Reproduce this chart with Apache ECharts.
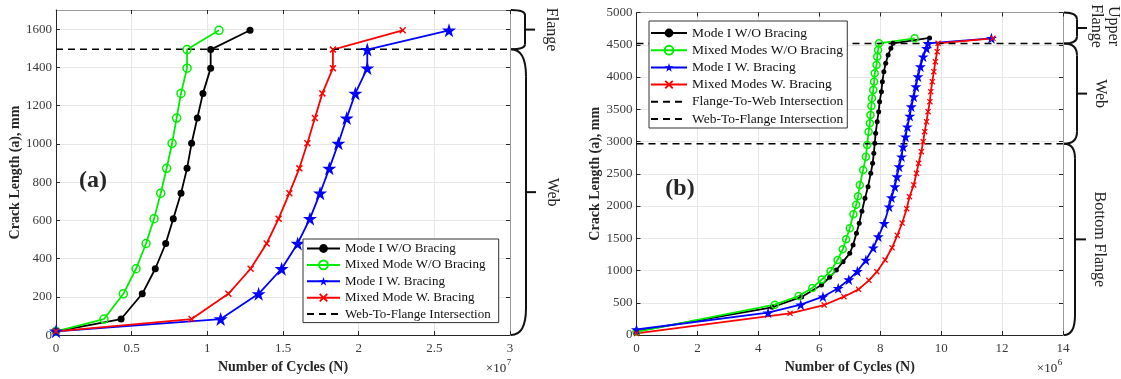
<!DOCTYPE html>
<html>
<head>
<meta charset="utf-8">
<script src="https://cdn.jsdelivr.net/npm/echarts@6/dist/echarts.min.js"></script>
<style>
  html, body { margin: 0; background: #fff; }
  #main { width: 1121px; height: 379px; }
</style>
</head>
<body>
<div id="main"></div>
<script>
// ---- chart (a): cycles in x10^7, crack length in mm ----
const aCrack = [20, 84, 216, 347, 479, 609, 742, 872, 1003, 1135, 1264, 1396, 1493, 1594]
const aModeIWO = [0, 0.43, 0.57, 0.656, 0.725, 0.775, 0.826, 0.866, 0.896, 0.934, 0.971, 1.022, 1.022, 1.282]
const aMixedWO = [0, 0.317, 0.445, 0.529, 0.595, 0.648, 0.692, 0.731, 0.767, 0.797, 0.826, 0.866, 0.866, 1.077]
const aModeIW = [0, 1.088, 1.339, 1.491, 1.597, 1.678, 1.745, 1.806, 1.866, 1.921, 1.978, 2.057, 2.057, 2.597]
const aMixedW = [0, 0.896, 1.139, 1.286, 1.392, 1.471, 1.542, 1.608, 1.661, 1.711, 1.760, 1.830, 1.830, 2.291]
const aWebToFlange = 1495

// ---- chart (b): cycles in x10^6, crack length in mm ----
const bModeIWO_x = [0, 4.45, 5.42, 6.07, 6.34, 6.56, 6.78, 7.00, 7.11, 7.22, 7.31, 7.40, 7.50, 7.60, 7.69, 7.75, 7.79, 7.82, 7.85, 7.90, 7.95, 7.98, 8.04, 8.07, 8.12, 8.18, 8.26, 8.35, 8.42, 9.62]
const bModeIWO_y = [60, 430, 590, 775, 894, 1008, 1137, 1266, 1395, 1576, 1731, 1920, 2119, 2300, 2507, 2662, 2817, 2972, 3127, 3307, 3462, 3617, 3772, 3928, 4083, 4212, 4341, 4444, 4522, 4605]
const bMixedWO_x = [0, 4.54, 5.32, 5.77, 6.08, 6.37, 6.60, 6.77, 6.88, 7.00, 7.12, 7.21, 7.27, 7.33, 7.44, 7.53, 7.57, 7.62, 7.66, 7.68, 7.71, 7.73, 7.77, 7.80, 7.82, 7.88, 7.90, 7.93, 7.96, 9.13]
const bMixedWO_y = [50, 470, 605, 730, 860, 990, 1163, 1330, 1484, 1655, 1873, 2020, 2150, 2326, 2558, 2764, 2946, 3152, 3282, 3411, 3550, 3670, 3798, 3928, 4057, 4186, 4315, 4419, 4522, 4600]
const bModeIW_x = [0, 4.32, 5.39, 6.12, 6.62, 6.97, 7.25, 7.53, 7.77, 7.94, 8.13, 8.29, 8.37, 8.48, 8.55, 8.62, 8.70, 8.75, 8.83, 8.89, 8.97, 9.02, 9.10, 9.17, 9.24, 9.32, 9.41, 9.52, 9.57, 11.65]
const bModeIW_y = [85, 346, 470, 594, 724, 858, 987, 1163, 1352, 1525, 1731, 1989, 2130, 2300, 2455, 2610, 2764, 2919, 3074, 3229, 3395, 3540, 3695, 3850, 4005, 4160, 4315, 4444, 4522, 4600]
const bMixedW_x = [0, 5.04, 6.16, 6.81, 7.29, 7.63, 7.89, 8.16, 8.39, 8.56, 8.72, 8.87, 8.96, 9.10, 9.19, 9.26, 9.35, 9.41, 9.46, 9.52, 9.57, 9.63, 9.66, 9.71, 9.76, 9.81, 9.87, 9.90, 11.70]
const bMixedW_y = [25, 336, 465, 594, 708, 848, 981, 1163, 1352, 1545, 1736, 1958, 2144, 2326, 2507, 2662, 2842, 2997, 3152, 3307, 3462, 3617, 3772, 3928, 4083, 4238, 4392, 4522, 4600]
const bWebToFlange = 4520
const bFlangeToWeb = 2965

const SERIF = '"Liberation Serif", "DejaVu Serif", serif'
const STAR = 'path://M50,0L61.2,34.5L97.6,34.5L68.2,55.9L79.4,90.5L50,69.1L20.6,90.5L31.8,55.9L2.4,34.5L38.8,34.5Z'
const CROSS = 'path://M0,1.5L1.5,0L5,3.5L8.5,0L10,1.5L6.5,5L10,8.5L8.5,10L5,6.5L1.5,10L0,8.5L3.5,5Z'

const zip = (xs, ys) => xs.map((x, i) => [x, ys[i]])

// one curve series
function curve(name, data, axis, kind, big){
  const s = {
    type: 'line', name: name, data: data,
    xAxisIndex: axis, yAxisIndex: axis,
    lineStyle: { width: 1.8 },
    animation: false
  }
  if (kind === 'black'){
    s.symbol = 'circle'; s.symbolSize = big ? 7 : 5
    s.lineStyle.color = '#000'; s.itemStyle = { color: '#000' }
  } else if (kind === 'green'){
    s.symbol = 'circle'; s.symbolSize = big ? 8 : 7
    s.lineStyle.color = '#00ee00'
    s.itemStyle = { color: 'rgba(255,255,255,0)', borderColor: '#00ee00', borderWidth: 1.5 }
  } else if (kind === 'blue'){
    s.symbol = STAR; s.symbolSize = big ? 14 : 11
    s.lineStyle.color = '#0000ff'; s.itemStyle = { color: '#0000ff' }
  } else {
    s.symbol = CROSS; s.symbolSize = big ? 7 : 6
    s.lineStyle.color = '#ff0000'; s.itemStyle = { color: '#ff0000' }
  }
  return s
}

function dashed(name, level, x0, x1, axis){
  return {
    type: 'line', name: name, data: [[x0, level], [x1, level]],
    xAxisIndex: axis, yAxisIndex: axis, symbol: 'none',
    lineStyle: { color: '#000', width: 1.6, type: [7, 5] },
    itemStyle: { color: '#000' },
    animation: false
  }
}

// axes helpers
function xMain(grid, max, step, gap){
  return {
    gridIndex: grid, type: 'value', min: 0, max: max, interval: step, position: 'bottom',
    name: 'Number of Cycles (N)', nameLocation: 'middle', nameGap: gap,
    nameTextStyle: { fontFamily: SERIF, fontWeight: 'bold', fontSize: 14, color: '#262626' },
    axisLine: { show: true, lineStyle: { color: '#262626', width: 1 } },
    axisTick: { inside: true, length: 4, lineStyle: { color: '#262626' } },
    axisLabel: { fontFamily: SERIF, fontSize: 13, color: '#3a3a3a', margin: 7, formatter: v => String(v) },
    splitLine: { show: true, lineStyle: { color: '#e6e6e6' } }
  }
}
function yMain(grid, max, step, gap){
  return {
    gridIndex: grid, type: 'value', min: 0, max: max, interval: step, position: 'left',
    name: 'Crack Length (a), mm', nameLocation: 'middle', nameGap: gap, nameRotate: 90,
    nameTextStyle: { fontFamily: SERIF, fontWeight: 'bold', fontSize: 14, color: '#262626' },
    axisLine: { show: true, lineStyle: { color: '#262626', width: 1 } },
    axisTick: { inside: true, length: 4, lineStyle: { color: '#262626' } },
    axisLabel: { fontFamily: SERIF, fontSize: 13, color: '#3a3a3a', margin: 4, showMaxLabel: max % step === 0, formatter: v => String(v) },
    splitLine: { show: true, lineStyle: { color: '#e6e6e6' } }
  }
}
// mirrored box side with ticks only
function mirror(grid, max, step, pos){
  return {
    gridIndex: grid, type: 'value', min: 0, max: max, interval: step, position: pos,
    axisLine: { show: true, onZero: false, lineStyle: { color: '#9a9a9a', width: 1 } },
    axisTick: { show: true, inside: true, length: 4, lineStyle: { color: '#262626' } },
    axisLabel: { show: false }, splitLine: { show: false }
  }
}

// legend entries; dashed rows get no marker
function entries(names, dashedNames){
  return names.map(n => dashedNames.indexOf(n) >= 0 ? { name: n, itemStyle: { opacity: 0 } } : n)
}
function legendBox(data, left, top, iw, gap, pad, fs){
  return {
    data: data, orient: 'vertical', left: left, top: top,
    itemWidth: iw, itemHeight: 11, itemGap: gap, padding: pad,
    backgroundColor: '#fff', borderColor: '#333', borderWidth: 1,
    selectedMode: false,
    textStyle: { fontFamily: SERIF, fontSize: fs, color: '#111' }
  }
}

const chart = echarts.init(document.getElementById('main'))

const option = {
  backgroundColor: '#fff',
  animation: false,
  grid: [
    { left: 56, top: 10, width: 454, height: 326, show: false },
    { left: 636.5, top: 12.5, width: 426.5, height: 322.5, show: false }
  ],
  xAxis: [
    xMain(0, 3, 0.5, 20), mirror(0, 3, 0.5, 'top'),
    xMain(1, 14, 2, 20), mirror(1, 14, 2, 'top')
  ],
  yAxis: [
    yMain(0, 1700, 200, 27), mirror(0, 1700, 200, 'right'),
    yMain(1, 5000, 500, 29), mirror(1, 5000, 500, 'right')
  ],
  legend: [
    legendBox(entries(['Mode I W/O Bracing', 'Mixed Mode W/O Bracing', 'Mode I W. Bracing', 'Mixed Mode W. Bracing', 'Web-To-Flange Intersection'],
      ['Web-To-Flange Intersection']), 303, 239, 33, 3.4, [3, 8, 2, 3], 13),
    legendBox(entries(['Mode I W/O Bracing', 'Mixed Modes W/O Bracing', 'Mode I W. Bracing', 'Mixed Modes W. Bracing', 'Flange-To-Web Intersection', 'Web-To-Flange Intersection'],
      ['Flange-To-Web Intersection', 'Web-To-Flange Intersection']), 649, 21, 36, 3.2, [5, 4, 2, 1], 13.5)
  ],
  series: [
    curve('Mode I W/O Bracing', zip(aModeIWO, aCrack), 0, 'black', true),
    curve('Mixed Mode W/O Bracing', zip(aMixedWO, aCrack), 0, 'green', true),
    curve('Mode I W. Bracing', zip(aModeIW, aCrack), 0, 'blue', true),
    curve('Mixed Mode W. Bracing', zip(aMixedW, aCrack), 0, 'red', true),
    dashed('Web-To-Flange Intersection', aWebToFlange, 0, 3, 0),

    curve('Mode I W/O Bracing', zip(bModeIWO_x, bModeIWO_y), 2, 'black', false),
    curve('Mixed Modes W/O Bracing', zip(bMixedWO_x, bMixedWO_y), 2, 'green', false),
    curve('Mode I W. Bracing', zip(bModeIW_x, bModeIW_y), 2, 'blue', false),
    curve('Mixed Modes W. Bracing', zip(bMixedW_x, bMixedW_y), 2, 'red', false),
    dashed('Flange-To-Web Intersection', bWebToFlange, 0, 14, 2),
    dashed('Web-To-Flange Intersection', bFlangeToWeb, 0, 14, 2)
  ]
}
chart.setOption(option)

// ---- braces and labels on the right of each plot ----
const ink = { stroke: '#111', lineWidth: 2, fill: null }
function brace(x0, y1, y2, w, r1, r2, t){
  const ym = (y1 + y2) / 2
  return [
    { type: 'bezierCurve', shape: { x1: x0, y1: y1, x2: x0 + w, y2: y1 + r1, cpx1: x0 + w, cpy1: y1 }, style: ink },
    { type: 'line', shape: { x1: x0 + w, y1: y1 + r1, x2: x0 + w, y2: y2 - r2 }, style: ink },
    { type: 'bezierCurve', shape: { x1: x0 + w, y1: y2 - r2, x2: x0, y2: y2, cpx1: x0 + w, cpy1: y2 }, style: ink },
    { type: 'line', shape: { x1: x0 + w, y1: ym, x2: x0 + w + t, y2: ym }, style: ink }
  ]
}
function sideText(text, x, y){
  return {
    type: 'text', x: x, y: y, rotation: -Math.PI / 2,
    style: { text: text, font: '16px ' + SERIF, fill: '#222', align: 'center', verticalAlign: 'middle', lineHeight: 17 }
  }
}
function plainText(text, x, y, font){
  return { type: 'text', x: x, y: y, style: { text: text, font: font, fill: '#262626', align: 'center', verticalAlign: 'middle' } }
}

const pa = v => chart.convertToPixel({ gridIndex: 0 }, v)
const pb = v => chart.convertToPixel({ gridIndex: 1 }, v)

const aRight = pa([3, 0])[0] + 1
const aTop = pa([0, 1700])[1]
const aDash = pa([0, aWebToFlange])[1]
const aBot = pa([0, 0])[1]
const bRight = pb([14, 0])[0] + 1
const bTop = pb([0, 5000])[1]
const bDash1 = pb([0, bWebToFlange])[1]
const bDash2 = pb([0, bFlangeToWeb])[1]
const bBot = pb([0, 0])[1]

const graphic = [].concat(
  brace(aRight, aTop, aDash, 14, 5, 5, 10),
  brace(aRight, aDash, aBot, 15, 27, 27, 10),
  brace(bRight, bTop, bDash1, 13, 7, 7, 10),
  brace(bRight, bDash1, bDash2, 13, 12, 12, 10),
  brace(bRight, bDash2, bBot, 11, 15, 20, 11),
  [
    sideText('Flange', 551, (aTop + aDash) / 2),
    sideText('Web', 552, (aDash + aBot) / 2),
    sideText('Upper\nFlange', 1105, (bTop + bDash1) / 2 - 2),
    sideText('Web', 1100, (bDash1 + bDash2) / 2),
    sideText('Bottom Flange', 1099, (bDash2 + bBot) / 2),
    plainText('(a)', 93, 181, 'bold 24px ' + SERIF),
    plainText('(b)', 680, 189, 'bold 24px ' + SERIF),
    plainText('\u00d710', 496, 369, '13px ' + SERIF),
    plainText('7', 509, 363, '9px ' + SERIF),
    plainText('\u00d710', 1047, 369, '13px ' + SERIF),
    plainText('6', 1060, 363, '9px ' + SERIF)
  ]
)
chart.setOption({ graphic: graphic })
</script>
</body>
</html>
